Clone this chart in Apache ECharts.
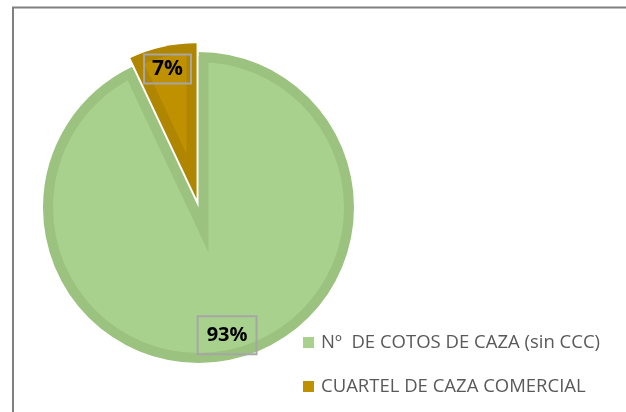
<!DOCTYPE html>
<html>
<head>
<meta charset="utf-8">
<script src="https://cdn.jsdelivr.net/npm/echarts@6/dist/echarts.min.js"></script>
<style>
html,body{margin:0;padding:0;background:#fff;}
#chart{width:626px;height:412px;}
</style>
</head>
<body>
<div id="chart"></div>
<script>
const categories = ['Nº  DE COTOS DE CAZA (sin CCC)', 'CUARTEL DE CAZA COMERCIAL'];
const values = [93, 7];
const labelTexts = ['93%', '7%'];

// styling / layout (not data)
const fills = ['#A9D18E', '#BF9000'];
const bands = ['#9BC27E', '#B08500'];
const C = [198.5, 207.5];
const R = 155.5, BAND = 10, OFFSET = 9;
const labelR = [128, 130];
const labelFont = [20, 21];
const labelPad = [[9, 9], [4, 8]];
const T = 'rgba(0,0,0,0)';

const total = values.reduce((a, b) => a + b, 0);
function sliceGeom(i) {
  let cum = 0;
  for (let k = 0; k < i; k++) cum += values[k];
  const frac = values[i] / total;
  const phi = (cum / total + frac / 2) * 2 * Math.PI; // clockwise from top
  const dir = [Math.sin(phi), -Math.cos(phi)];
  const half = frac * Math.PI;
  return {dir, half};
}
const g0 = sliceGeom(0), g1 = sliceGeom(1);
// exploded centre of small slice
const Cg = [C[0] + OFFSET * g1.dir[0], C[1] + OFFSET * g1.dir[1]];
// bevel insets
const s1 = BAND / Math.sin(g1.half);
const Pg = [Cg[0] + s1 * g1.dir[0], Cg[1] + s1 * g1.dir[1]];
const s0 = BAND / Math.sin(g0.half);
const P = [C[0] + s0 * g0.dir[0], C[1] + s0 * g0.dir[1]];

function pieData(colors) {
  return categories.map((name, i) => ({name, value: values[i], itemStyle: {color: colors[i]}}));
}
const base = {
  type: 'pie', startAngle: 90, clockwise: true, silent: true,
  emphasis: {disabled: true}, label: {show: false}, labelLine: {show: false},
  itemStyle: {borderWidth: 0}, avoidLabelOverlap: false, animation: false
};
function labelSeries(i, center) {
  return Object.assign({}, base, {
    center: center,
    radius: [labelR[i] - 19, labelR[i] + 19],
    data: categories.map((name, k) => ({
      name, value: values[k],
      itemStyle: {color: T},
      label: k === i ? {
        show: true, position: 'inside',
        formatter: labelTexts[k],
        fontFamily: 'Open Sans', fontWeight: 'bold', fontSize: labelFont[k],
        lineHeight: labelFont[k],
        color: '#000000', borderColor: '#A6A6A6', borderWidth: 2,
        padding: labelPad[k]
      } : {show: false}
    }))
  });
}

const series = [
  Object.assign({}, base, {center: C, radius: R, data: pieData([bands[0], T])}),
  Object.assign({}, base, {center: C, radius: R - BAND, data: pieData([fills[0], T])}),
  Object.assign({}, base, {center: P, radius: s0 + R - BAND / 2, data: pieData([T, bands[0]])}),
  Object.assign({}, base, {center: C, radius: R + 2, data: pieData([T, '#ffffff'])}),
  Object.assign({}, base, {center: Cg, radius: R, data: pieData([T, bands[1]])}),
  Object.assign({}, base, {center: Pg, radius: R - BAND - s1, data: pieData([T, fills[1]])}),
  labelSeries(0, C),
  labelSeries(1, Cg)
];

const chart = echarts.init(document.getElementById('chart'), null, {renderer: 'canvas'});
chart.setOption({
  backgroundColor: '#ffffff',
  animation: false,
  graphic: [{
    type: 'rect',
    shape: {x: 13, y: 7.5, width: 800, height: 600},
    style: {fill: 'none', stroke: '#808080', lineWidth: 2},
    z: 100
  }],
  legend: {
    orient: 'vertical',
    left: 303,
    top: 333,
    padding: 0,
    z: 10,
    itemWidth: 11,
    itemHeight: 11,
    itemGap: 25,
    icon: 'rect',
    selectedMode: false,
    textStyle: {fontFamily: 'Open Sans', fontSize: 18.5, color: '#595959', lineHeight: 19, padding: [0, 0, 0, 2]},
    data: categories.map((name, i) => ({name, itemStyle: {color: fills[i], borderWidth: 0}}))
  },
  series: series
});
</script>
</body>
</html>
